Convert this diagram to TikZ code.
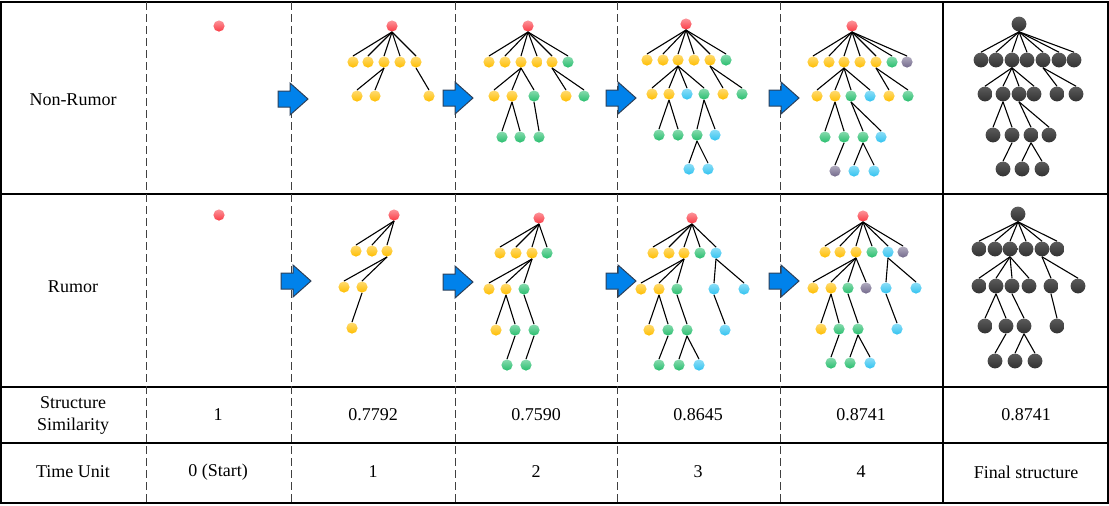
\documentclass[tikz,border=0pt]{standalone}
\usepackage{fontspec}
\setmainfont{Liberation Serif}

\definecolor{rootred}{RGB}{250,60,70}
\definecolor{yel}{RGB}{255,190,0}
\definecolor{grn}{RGB}{40,190,110}
\definecolor{blu}{RGB}{50,195,240}
\definecolor{pur}{RGB}{115,105,140}
\definecolor{drk}{RGB}{50,50,50}
\definecolor{arrowblue}{RGB}{0,130,235}
\definecolor{arrowline}{RGB}{45,65,90}

\tikzset{
dot/.style={circle, inner sep=0pt, minimum size=5.6pt,
  top color=#1!55!white, bottom color=#1},
bigdot/.style={circle, inner sep=0pt, minimum size=7.4pt,
  top color=drk!80!white, bottom color=drk},
link/.style={line width=0.55pt},
frame/.style={line width=0.7pt},
sep/.style={line width=0.45pt, draw=black!75, dash pattern=on 4pt off 2pt},
flowarrow/.style={fill=arrowblue, draw=arrowline, line width=0.5pt, line join=miter},
cell/.style={font=\fontsize{9}{11}\selectfont, align=center}
}

\begin{document}
\begin{tikzpicture}[x=0.5pt, y=-0.5pt]
\useasboundingbox (0,0) rectangle (1109,505);

% table
\draw[frame] (1,2) rectangle (1108,503);
\draw[frame] (1,194) -- (1108,194);
\draw[frame] (1,387) -- (1108,387);
\draw[frame] (1,443) -- (1108,443);
\foreach \x in {146,291,455,617,780}
  \draw[sep] (\x,2) -- (\x,503);
\draw[line width=1pt] (943,2) -- (943,503);

% row labels
\node[cell] (lnr) at (73,100) {Non-Rumor};
\node[cell] (lr) at (73,287) {Rumor};
\node[cell] (lss) at (73,415) {Structure\\Similarity};
\node[cell] (ltu) at (73,472) {Time Unit};

% values
\foreach \x/\v [count=\i] in {218/1, 373/0.7792, 536/0.7590, 698/0.8645, 861/0.8741, 1026/0.8741}
  \node[cell] (ss\i) at (\x,415) {\v};
\foreach \x/\v [count=\i] in {218/0 (Start), 373/1, 536/2, 698/3, 861/4, 1026/Final structure}
  \node[cell] (tu\i) at (\x,472) {\v};

% block arrows
\foreach \x/\y in {278/99, 443/98, 606/98, 769/98, 281/281, 443/282, 606/281, 769/281}
  \draw[flowarrow] (\x,\y-8) -- (\x+12,\y-8) -- (\x+12,\y-16) -- (\x+30,\y)
    -- (\x+12,\y+16) -- (\x+12,\y+8) -- (\x,\y+8) -- cycle;

% ---- Non-Rumor ----
\node[dot=rootred] (nr1r) at (219,26) {};

% t = 1
\node[dot=rootred] (nr2r) at (392,26) {};
\foreach \x/\c [count=\i] in {353/yel,368/yel,384/yel,400/yel,416/yel}
  \node[dot=\c] (nr2a\i) at (\x,62) {};
\foreach \x/\c [count=\i] in {357/yel,375/yel,429/yel}
  \node[dot=\c] (nr2b\i) at (\x,96) {};
\foreach \i in {1,...,5}
  \draw[link] (nr2r.south) -- (nr2a\i.north);
\foreach \p/\q in {a3/b1,a3/b2,a5/b3}
  \draw[link] (nr2\p.south) -- (nr2\q.north);

% t = 2
\node[dot=rootred] (nr3r) at (528,26) {};
\foreach \x/\c [count=\i] in {489/yel,505/yel,521/yel,537/yel,552/yel,568/grn}
  \node[dot=\c] (nr3a\i) at (\x,62) {};
\foreach \x/\c [count=\i] in {494/yel,512/yel,534/grn,566/yel,584/grn}
  \node[dot=\c] (nr3b\i) at (\x,96) {};
\foreach \x/\c [count=\i] in {502/grn,520/grn,539/grn}
  \node[dot=\c] (nr3c\i) at (\x,137) {};
\foreach \i in {1,...,6}
  \draw[link] (nr3r.south) -- (nr3a\i.north);
\foreach \p/\q in {a3/b1,a3/b2,a3/b3,a5/b4,a5/b5,b2/c1,b2/c2,b3/c3}
  \draw[link] (nr3\p.south) -- (nr3\q.north);

% t = 3
\node[dot=rootred] (nr4r) at (686,24) {};
\foreach \x/\c [count=\i] in {647/yel,663/yel,678/yel,694/yel,710/yel,726/grn}
  \node[dot=\c] (nr4a\i) at (\x,60) {};
\foreach \x/\c [count=\i] in {652/yel,669/yel,687/blu,704/grn,723/yel,742/grn}
  \node[dot=\c] (nr4b\i) at (\x,94) {};
\foreach \x/\c [count=\i] in {659/grn,678/grn,697/grn,715/blu}
  \node[dot=\c] (nr4c\i) at (\x,135) {};
\foreach \x/\c [count=\i] in {689/blu,708/blu}
  \node[dot=\c] (nr4d\i) at (\x,169) {};
\foreach \i in {1,...,6}
  \draw[link] (nr4r.south) -- (nr4a\i.north);
\foreach \p/\q in {a3/b1,a3/b2,a3/b3,a3/b4,a5/b5,a5/b6,b2/c1,b2/c2,b4/c3,b4/c4,c3/d1,c3/d2}
  \draw[link] (nr4\p.south) -- (nr4\q.north);

% t = 4
\node[dot=rootred] (nr5r) at (852,26) {};
\foreach \x/\c [count=\i] in {813/yel,829/yel,844/yel,860/yel,876/yel,892/grn,907/pur}
  \node[dot=\c] (nr5a\i) at (\x,62) {};
\foreach \x/\c [count=\i] in {817/yel,835/yel,851/grn,870/blu,889/yel,908/grn}
  \node[dot=\c] (nr5b\i) at (\x,96) {};
\foreach \x/\c [count=\i] in {825/grn,844/grn,863/grn,881/blu}
  \node[dot=\c] (nr5c\i) at (\x,137) {};
\foreach \x/\c [count=\i] in {835/pur,854/blu,874/blu}
  \node[dot=\c] (nr5d\i) at (\x,171) {};
\foreach \i in {1,...,7}
  \draw[link] (nr5r.south) -- (nr5a\i.north);
\foreach \p/\q in {a3/b1,a3/b2,a3/b3,a3/b4,a5/b5,a5/b6,b2/c1,b2/c2,b3/c3,b3/c4,c2/d1,c3/d2,c3/d3}
  \draw[link] (nr5\p.south) -- (nr5\q.north);

% final
\node[bigdot] (nr6r) at (1019,24) {};
\foreach \x [count=\i] in {981,996,1012,1027,1043,1059,1074}
  \node[bigdot] (nr6a\i) at (\x,60) {};
\foreach \x [count=\i] in {985,1003,1019,1034,1057,1076}
  \node[bigdot] (nr6b\i) at (\x,94) {};
\foreach \x [count=\i] in {993,1012,1031,1049}
  \node[bigdot] (nr6c\i) at (\x,135) {};
\foreach \x [count=\i] in {1003,1022,1042}
  \node[bigdot] (nr6d\i) at (\x,169) {};
\foreach \i in {1,...,7}
  \draw[link] (nr6r.south) -- (nr6a\i.north);
\foreach \p/\q in {a3/b1,a3/b2,a3/b3,a3/b4,a5/b5,a5/b6,b2/c1,b2/c2,b3/c3,b3/c4,c2/d1,c3/d2,c3/d3}
  \draw[link] (nr6\p.south) -- (nr6\q.north);

% ---- Rumor ----
\node[dot=rootred] (ru1r) at (219,215) {};

% t = 1
\node[dot=rootred] (ru2r) at (394,215) {};
\foreach \x/\c [count=\i] in {356/yel,372/yel,387/yel}
  \node[dot=\c] (ru2a\i) at (\x,251) {};
\foreach \x/\c [count=\i] in {344/yel,362/yel}
  \node[dot=\c] (ru2b\i) at (\x,287) {};
\node[dot=yel] (ru2c1) at (352,328) {};
\foreach \i in {1,...,3}
  \draw[link] (ru2r.south) -- (ru2a\i.north);
\foreach \p/\q in {a3/b1,a3/b2,b2/c1}
  \draw[link] (ru2\p.south) -- (ru2\q.north);

% t = 2
\node[dot=rootred] (ru3r) at (539,218) {};
\foreach \x/\c [count=\i] in {500/yel,516/yel,532/yel,547/grn}
  \node[dot=\c] (ru3a\i) at (\x,253) {};
\foreach \x/\c [count=\i] in {489/yel,506/yel,524/grn}
  \node[dot=\c] (ru3b\i) at (\x,289) {};
\foreach \x/\c [count=\i] in {496/yel,515/grn,534/grn}
  \node[dot=\c] (ru3c\i) at (\x,330) {};
\foreach \x/\c [count=\i] in {507/grn,526/grn}
  \node[dot=\c] (ru3d\i) at (\x,365) {};
\foreach \i in {1,...,4}
  \draw[link] (ru3r.south) -- (ru3a\i.north);
\foreach \p/\q in {a3/b1,a3/b2,a3/b3,b2/c1,b2/c2,b3/c3,c2/d1,c3/d2}
  \draw[link] (ru3\p.south) -- (ru3\q.north);

% t = 3
\node[dot=rootred] (ru4r) at (692,218) {};
\foreach \x/\c [count=\i] in {653/yel,669/yel,684/yel,700/grn,716/blu}
  \node[dot=\c] (ru4a\i) at (\x,253) {};
\foreach \x/\c [count=\i] in {641/yel,659/yel,677/grn,714/blu,744/blu}
  \node[dot=\c] (ru4b\i) at (\x,289) {};
\foreach \x/\c [count=\i] in {649/yel,668/grn,687/grn,725/blu}
  \node[dot=\c] (ru4c\i) at (\x,330) {};
\foreach \x/\c [count=\i] in {659/grn,679/grn,699/blu}
  \node[dot=\c] (ru4d\i) at (\x,365) {};
\foreach \i in {1,...,5}
  \draw[link] (ru4r.south) -- (ru4a\i.north);
\foreach \p/\q in {a3/b1,a3/b2,a3/b3,a5/b4,a5/b5,b2/c1,b2/c2,b3/c3,b4/c4,c2/d1,c3/d2,c3/d3}
  \draw[link] (ru4\p.south) -- (ru4\q.north);

% t = 4
\node[dot=rootred] (ru5r) at (863,216) {};
\foreach \x/\c [count=\i] in {825/yel,840/yel,856/yel,872/grn,888/blu,903/pur}
  \node[dot=\c] (ru5a\i) at (\x,252) {};
\foreach \x/\c [count=\i] in {813/yel,831/yel,848/grn,866/pur,886/blu,916/blu}
  \node[dot=\c] (ru5b\i) at (\x,288) {};
\foreach \x/\c [count=\i] in {821/yel,839/grn,858/grn,897/blu}
  \node[dot=\c] (ru5c\i) at (\x,329) {};
\foreach \x/\c [count=\i] in {831/grn,850/grn,870/blu}
  \node[dot=\c] (ru5d\i) at (\x,363) {};
\foreach \i in {1,...,6}
  \draw[link] (ru5r.south) -- (ru5a\i.north);
\foreach \p/\q in {a3/b1,a3/b2,a3/b3,a3/b4,a5/b5,a5/b6,b2/c1,b2/c2,b3/c3,b5/c4,c2/d1,c3/d2,c3/d3}
  \draw[link] (ru5\p.south) -- (ru5\q.north);

% final
\node[bigdot] (ru6r) at (1018,214) {};
\foreach \x [count=\i] in {979,995,1010,1026,1042,1057}
  \node[bigdot] (ru6a\i) at (\x,249) {};
\foreach \x [count=\i] in {979,996,1012,1029,1051,1078}
  \node[bigdot] (ru6b\i) at (\x,286) {};
\foreach \x [count=\i] in {985,1006,1024,1057}
  \node[bigdot] (ru6c\i) at (\x,326) {};
\foreach \x [count=\i] in {995,1015,1035}
  \node[bigdot] (ru6d\i) at (\x,361) {};
\foreach \i in {1,...,6}
  \draw[link] (ru6r.south) -- (ru6a\i.north);
\foreach \p/\q in {a3/b1,a3/b2,a3/b3,a3/b4,a5/b5,a5/b6,b2/c1,b2/c2,b3/c3,b5/c4,c2/d1,c3/d2,c3/d3}
  \draw[link] (ru6\p.south) -- (ru6\q.north);

\end{tikzpicture}
\end{document}
